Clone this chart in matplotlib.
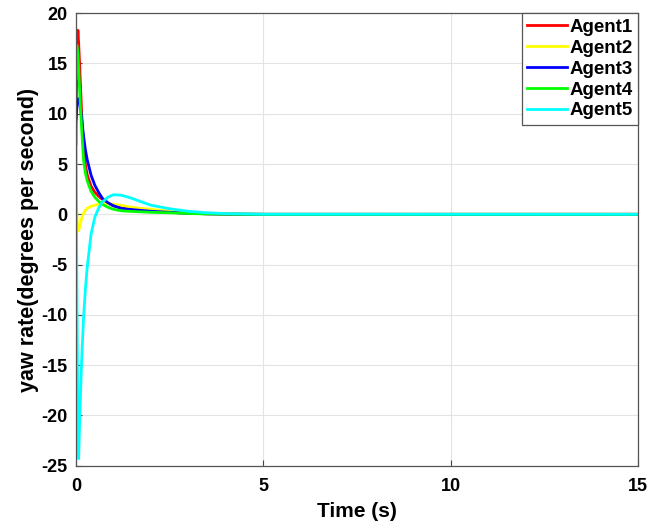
# yaw rate of the five agents
import numpy as np
import matplotlib.pyplot as plt

# time samples (s)
t = [0, 0.02, 0.05, 0.07, 0.1, 0.15, 0.2, 0.25, 0.3, 0.4, 0.5, 0.6, 0.7, 0.85,
     1.0, 1.2, 1.4, 1.7, 2.0, 2.5, 3.0, 3.5, 4.0, 5.0, 15.0]

agent1 = [7.0, 15.5, 18.3, 17.0, 14.5, 10.0, 6.8, 4.9, 3.9, 2.8, 2.2, 1.8, 1.5, 1.1,
          0.85, 0.65, 0.5, 0.4, 0.3, 0.2, 0.1, 0.05, 0.02, 0.0, 0.0]
agent2 = [2.3, 0.0, -1.6, -1.65, -1.2, -0.4, 0.1, 0.4, 0.6, 0.8, 0.9, 1.0, 1.05, 1.05,
          1.0, 0.9, 0.75, 0.6, 0.5, 0.3, 0.15, 0.08, 0.03, 0.0, 0.0]
agent3 = [9.5, 10.5, 11.3, 11.5, 11.4, 9.5, 7.8, 6.4, 5.4, 3.9, 2.9, 2.2, 1.6, 1.15,
          0.85, 0.6, 0.5, 0.4, 0.3, 0.2, 0.1, 0.05, 0.02, 0.0, 0.0]
agent4 = [13.5, 16.8, 16.0, 14.5, 12.0, 8.5, 5.4, 4.1, 3.3, 2.3, 1.7, 1.3, 1.0, 0.7,
          0.5, 0.35, 0.3, 0.25, 0.2, 0.15, 0.08, 0.04, 0.02, 0.0, 0.0]
agent5 = [9.0, -6.0, -22.0, -24.3, -20.0, -14.5, -10.3, -7.4, -5.2, -2.0, -0.3, 0.6, 1.2, 1.7,
          1.95, 1.9, 1.7, 1.3, 0.9, 0.55, 0.3, 0.15, 0.07, 0.01, 0.0]

labels = ['Agent1', 'Agent2', 'Agent3', 'Agent4', 'Agent5']
colors = ['#ff0000', '#ffff00', '#0000ff', '#00ff00', '#00ffff']

plt.rcParams['font.family'] = ['Liberation Sans', 'DejaVu Sans']
plt.rcParams['font.weight'] = 'bold'
plt.rcParams['axes.unicode_minus'] = False

fig = plt.figure(figsize=(6.67, 5.28), dpi=100)
ax = fig.add_axes([0.114, 0.118, 0.843, 0.857])

for y, lab, c in zip([agent1, agent2, agent3, agent4, agent5], labels, colors):
    ax.plot(t, y, color=c, lw=2, label=lab)

ax.set_xlim(0, 15)
ax.set_ylim(-25, 20)
ax.set_xticks([0, 5, 10, 15])
ax.set_yticks(np.arange(-25, 21, 5))
ax.grid(True, color='#e3e3e3', lw=0.8)
ax.set_axisbelow(True)
ax.tick_params(direction='in', labelsize=13, length=4, color='#444444')
ax.tick_params(axis='x', pad=9)
ax.tick_params(axis='y', pad=6)
for lbl in ax.get_xticklabels() + ax.get_yticklabels():
    lbl.set_fontweight('bold')
for s in ax.spines.values():
    s.set_color('#555555')
    s.set_linewidth(0.9)

ax.set_xlabel('Time (s)', fontsize=15, fontweight='bold', labelpad=5)
ax.set_ylabel('yaw rate(degrees per second)', fontsize=15.5, fontweight='bold', labelpad=2)

leg = ax.legend(loc='upper right', fontsize=13.5, handlelength=2.1, borderaxespad=0,
                fancybox=False, framealpha=1, edgecolor='#555555',
                labelspacing=0.2, handletextpad=0.15, borderpad=0.3)
leg.get_frame().set_linewidth(0.9)
for txt in leg.get_texts():
    txt.set_fontweight('bold')

fig.savefig('out.png', dpi=100)
